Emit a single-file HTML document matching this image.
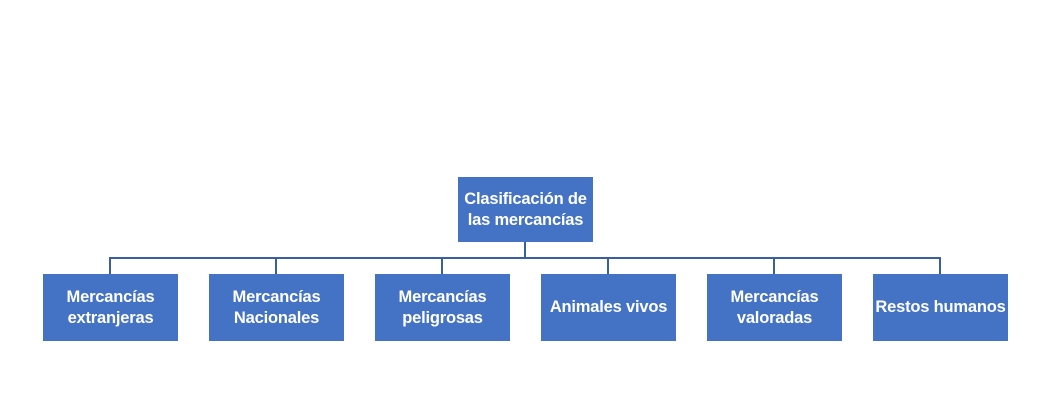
<!DOCTYPE html>
<html><head><meta charset="utf-8"><style>
body{margin:0;width:1058px;height:403px;background:#fff;position:relative;overflow:hidden;font-family:"Liberation Sans",sans-serif}
.b{position:absolute;background:#4472c4;color:#fff;font-weight:bold;font-size:16.5px;line-height:21px;display:flex;align-items:center;justify-content:center;text-align:center;letter-spacing:-0.2px;white-space:nowrap}
.c{top:274px;width:135px;height:67px}
</style></head><body>
<svg width="1058" height="403" style="position:absolute;left:0;top:0">
<g stroke="#3a5f9e" stroke-width="2" fill="none">
<line x1="525" y1="242" x2="525" y2="258"/>
<line x1="110" y1="258" x2="941" y2="258"/>
<line x1="110" y1="257" x2="110" y2="274"/>
<line x1="276" y1="257" x2="276" y2="274"/>
<line x1="442" y1="257" x2="442" y2="274"/>
<line x1="608" y1="257" x2="608" y2="274"/>
<line x1="774" y1="257" x2="774" y2="274"/>
<line x1="940" y1="257" x2="940" y2="274"/>
</g></svg>
<div class="b" style="left:458px;top:177px;width:135px;height:65px">Clasificación de<br>las mercancías</div>
<div class="b c" style="left:43px">Mercancías<br>extranjeras</div>
<div class="b c" style="left:209px">Mercancías<br>Nacionales</div>
<div class="b c" style="left:375px">Mercancías<br>peligrosas</div>
<div class="b c" style="left:541px">Animales vivos</div>
<div class="b c" style="left:707px">Mercancías<br>valoradas</div>
<div class="b c" style="left:873px">Restos humanos</div>
</body></html>
